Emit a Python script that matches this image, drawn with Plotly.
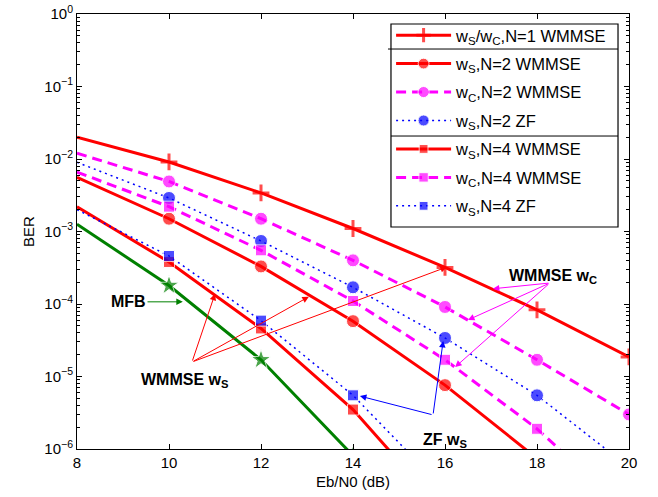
import plotly.graph_objects as go

# ---------------- data ----------------
ebn0 = [8, 10, 12, 14, 16, 18, 20]

ber_n1_wmmse = [2.0e-2, 9.1e-3, 3.4e-3, 1.1e-3, 3.2e-4, 8.3e-5, 1.86e-5]
ber_n2_ws_wmmse = [5.6e-3, 1.5e-3, 3.3e-4, 5.8e-5, 7.6e-6, 7.4e-7]
ber_n2_wc_wmmse = [1.2e-2, 4.9e-3, 1.5e-3, 4.0e-4, 9.1e-5, 1.7e-5, 3.0e-6]
ber_n2_ws_zf = [9.0e-3, 2.9e-3, 7.4e-4, 1.7e-4, 3.4e-5, 5.5e-6, 5.6e-7]
ber_n4_ws_wmmse = [2.2e-3, 3.8e-4, 4.6e-5, 3.5e-6, 1.3e-7]
ber_n4_wc_wmmse = [6.6e-3, 2.2e-3, 5.5e-4, 1.1e-4, 1.7e-5, 1.9e-6, 1.3e-7]
ber_n4_ws_zf = [2.0e-3, 4.6e-4, 5.9e-5, 5.5e-6, 2.7e-7]
ber_mfb = [1.26e-3, 1.8e-4, 1.7e-5, 8.1e-7]

y_tick_vals = [1e-6, 1e-5, 1e-4, 1e-3, 1e-2, 1e-1, 1]
y_tick_text = ["10<sup>−6</sup>", "10<sup>−5</sup>", "10<sup>−4</sup>", "10<sup>−3</sup>",
               "10<sup>−2</sup>", "10<sup>−1</sup>", "10<sup>0</sup>"]
x_tick_vals = [8, 10, 12, 14, 16, 18, 20]

RED = "#ff0000"
MAG = "#ff00ff"
BLUE = "#0000ff"
GREEN = "#008000"
FONT = "Liberation Sans, Arial, Helvetica, sans-serif"

series = [
    ("w<sub>S</sub>/w<sub>C</sub>,N=1 WMMSE", ber_n1_wmmse, RED, "solid", 3, "cross-thin", 12),
    ("w<sub>S</sub>,N=2 WMMSE", ber_n2_ws_wmmse, RED, "solid", 3, "circle", 13),
    ("w<sub>C</sub>,N=2 WMMSE", ber_n2_wc_wmmse, MAG, "10px,6px", 3, "circle", 13),
    ("w<sub>S</sub>,N=2 ZF", ber_n2_ws_zf, BLUE, "2px,4px", 1.5, "circle", 13),
    ("w<sub>S</sub>,N=4 WMMSE", ber_n4_ws_wmmse, RED, "solid", 3, "square", 11),
    ("w<sub>C</sub>,N=4 WMMSE", ber_n4_wc_wmmse, MAG, "10px,6px", 3, "square", 11),
    ("w<sub>S</sub>,N=4 ZF", ber_n4_ws_zf, BLUE, "2px,4px", 1.5, "square", 11),
]

fig = go.Figure()

for i, (name, vals, col, dash, lw, sym, ms) in enumerate(series):
    n = len(vals)
    sizes = [0] + [ms] * (n - 1)
    marker = dict(symbol=sym, size=sizes, color=col)
    if sym == "cross-thin":
        marker["line"] = dict(color=col, width=3)
    fig.add_trace(go.Scatter(
        x=ebn0[:n], y=vals, name=name, mode="lines+markers",
        line=dict(color=col, width=lw, dash=dash),
        marker=marker, legendgroup="g%d" % i,
    ))

fig.add_trace(go.Scatter(
    x=ebn0[:len(ber_mfb)], y=ber_mfb, name="MFB", mode="lines+markers",
    line=dict(color=GREEN, width=3),
    marker=dict(symbol="star", size=[0] + [15] * (len(ber_mfb) - 1), color=GREEN),
    showlegend=False,
))

# ---------------- annotations ----------------
annos = []

def txt(x, ly, s):
    annos.append(dict(x=x, y=ly, xref="x", yref="y", text=s, showarrow=False,
                      font=dict(family=FONT, size=16, color="black"),
                      xanchor="center", yanchor="middle"))

def arrow(hx, hly, tx, tly, col):
    annos.append(dict(x=hx, y=hly, ax=tx, ay=tly, xref="x", yref="y",
                      axref="x", ayref="y", text="", showarrow=True,
                      arrowhead=2, arrowsize=1.3, arrowwidth=1, arrowcolor=col))

txt(9.11, -3.97, "<b>MFB</b>")
arrow(10.30, -3.97, 9.50, -3.97, GREEN)

txt(10.35, -5.05, "<b>WMMSE w<sub>S</sub></b>")
for hx, hly in [(11.0, -3.86), (13.04, -3.90), (16.04, -3.49)]:
    arrow(hx, hly, 10.50, -4.80, RED)

txt(18.35, -3.62, "<b>WMMSE w<sub>C</sub></b>")
for hx, hly in [(17.04, -3.79), (16.5, -4.22), (16.22, -4.87)]:
    arrow(hx, hly, 18.28, -3.71, MAG)

txt(16.0, -5.88, "<b>ZF w<sub>S</sub></b>")
for hx, hly in [(14.15, -5.27), (15.96, -4.51)]:
    arrow(hx, hly, 15.74, -5.53, BLUE)

minor_vals = [m * 10.0 ** e for e in range(-6, 0) for m in range(2, 10)]

fig.update_layout(
    width=658, height=497,
    margin=dict(l=77, r=29, t=14, b=48, autoexpand=False),
    paper_bgcolor="white", plot_bgcolor="white",
    font=dict(family=FONT, size=14, color="black"),
    showlegend=True,
    legend=dict(x=0.569, y=0.991, xanchor="left", yanchor="top",
                bgcolor="rgba(0,0,0,0)", borderwidth=0,
                font=dict(family=FONT, size=16.5), tracegroupgap=4,
                itemwidth=55),
    annotations=annos,
    xaxis=dict(range=[8, 20], tickmode="array", tickvals=x_tick_vals,
               ticks="inside", ticklen=5, tickcolor="black", showgrid=False,
               zeroline=False, showline=True, linecolor="black", linewidth=1,
               mirror="ticks", tickfont=dict(size=15), automargin=False,
               title=dict(text="Eb/N0 (dB)", font=dict(size=15), standoff=6)),
    yaxis=dict(type="log", range=[-6, 0], tickmode="array", tickvals=y_tick_vals,
               ticktext=y_tick_text, ticks="inside", ticklen=5, tickcolor="black",
               showgrid=False, zeroline=False, showline=True, linecolor="black",
               linewidth=1, mirror="ticks", tickfont=dict(size=15), automargin=False,
               minor=dict(tickmode="array", tickvals=minor_vals, ticks="inside",
                          ticklen=3, tickcolor="black", showgrid=False),
               title=dict(text="BER", font=dict(size=15), standoff=6)),
)

# legend box and group separators (drawn as shapes beneath the transparent legend)
fig.add_shape(type="rect", xref="paper", yref="paper", x0=0.5688, x1=0.9801,
              y0=0.5103, y1=0.977, layer="above",
              line=dict(color="black", width=1.2), fillcolor="white")
fig.add_shape(type="line", xref="paper", yref="paper", x0=0.5634, x1=0.9801,
              y0=0.9195, y1=0.9195, layer="above", line=dict(color="black", width=1))
fig.add_shape(type="line", xref="paper", yref="paper", x0=0.5688, x1=0.9801,
              y0=0.7195, y1=0.7195, layer="above", line=dict(color="black", width=1))

fig.write_html("out.html")
